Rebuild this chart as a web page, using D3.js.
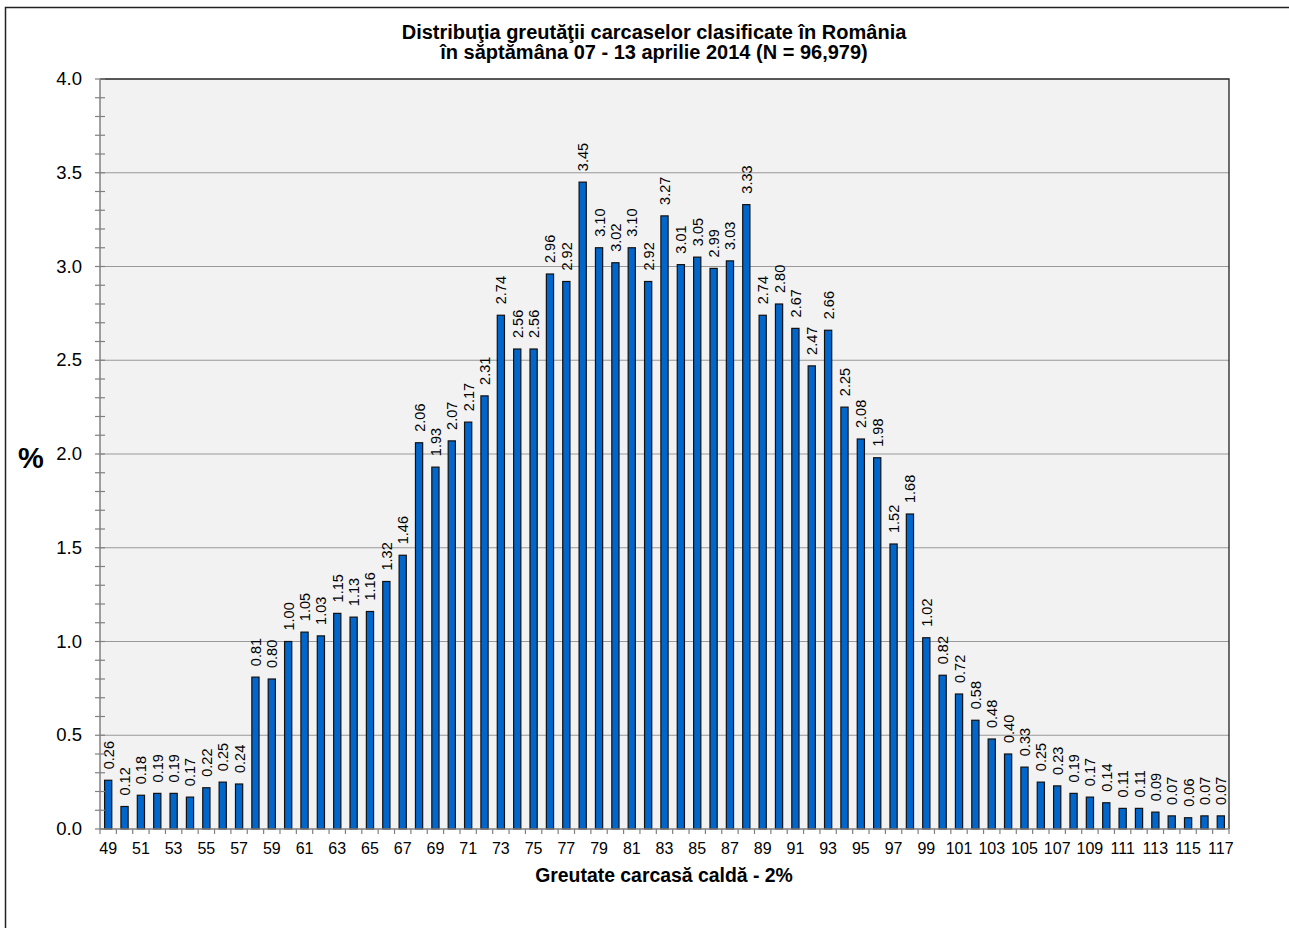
<!DOCTYPE html>
<html>
<head>
<meta charset="utf-8">
<script src="https://cdn.jsdelivr.net/npm/d3@7"></script>
<style>
  body { margin: 0; background: #fff; }
  svg { font-family: Arial, "Liberation Sans", sans-serif; }
</style>
</head>
<body>
<div id="chart"></div>
<script>
// Weight classes (kg) and share of carcasses (%)
const weights = d3.range(49, 118);
const shares = [
  0.26, 0.12, 0.18, 0.19, 0.19, 0.17, 0.22, 0.25, 0.24,
  0.81, 0.80, 1.00, 1.05, 1.03, 1.15, 1.13, 1.16, 1.32, 1.46,
  2.06, 1.93, 2.07, 2.17, 2.31, 2.74, 2.56, 2.56, 2.96, 2.92,
  3.45, 3.10, 3.02, 3.10, 2.92, 3.27, 3.01, 3.05, 2.99, 3.03,
  3.33, 2.74, 2.80, 2.67, 2.47, 2.66, 2.25, 2.08, 1.98, 1.52,
  1.68, 1.02, 0.82, 0.72, 0.58, 0.48, 0.40, 0.33, 0.25, 0.23,
  0.19, 0.17, 0.14, 0.11, 0.11, 0.09, 0.07, 0.06, 0.07, 0.07
];
const yTicks = [0, 0.5, 1, 1.5, 2, 2.5, 3, 3.5, 4];
const titleLines = [
  "Distribuţia greutăţii carcaselor clasificate în România",
  "în săptămâna 07 - 13 aprilie 2014 (N = 96,979)"
];

const width = 1289, height = 928;
const plot = { left: 100, top: 79, right: 1229, bottom: 829 };

const svg = d3.select("#chart").append("svg")
  .attr("width", width)
  .attr("height", height);

// outer chart border
svg.append("rect")
  .attr("x", 5.5).attr("y", 7.5)
  .attr("width", width).attr("height", height)
  .attr("fill", "none").attr("stroke", "#222").attr("stroke-width", 1.5);

const x = d3.scaleBand()
  .domain(weights)
  .range([plot.left, plot.right])
  .paddingInner(0.56).paddingOuter(0.28);

const y = d3.scaleLinear().domain([0, 4]).range([plot.bottom, plot.top]);

// plot background
svg.append("rect")
  .attr("x", plot.left).attr("y", plot.top)
  .attr("width", plot.right - plot.left).attr("height", plot.bottom - plot.top)
  .attr("fill", "#f2f2f2");

// gridlines
svg.selectAll(".grid")
  .data(yTicks.slice(1, -1))
  .enter().append("line")
  .attr("x1", plot.left).attr("x2", plot.right)
  .attr("y1", d => y(d)).attr("y2", d => y(d))
  .style("stroke", "#999").style("stroke-width", 1.2);

// plot frame top/right
svg.append("path")
  .attr("d", `M${plot.left},${plot.top}H${plot.right}V${plot.bottom}`)
  .attr("fill", "none").attr("stroke", "#222").attr("stroke-width", 1.3);

// bars
svg.selectAll(".bar")
  .data(shares)
  .enter().append("rect")
  .attr("x", (d, i) => x(weights[i]))
  .attr("y", d => y(d))
  .attr("width", x.bandwidth())
  .attr("height", d => y(0) - y(d))
  .attr("fill", "#0066cc")
  .attr("stroke", "#111").attr("stroke-width", 1.2);

// value labels
svg.selectAll(".val")
  .data(shares)
  .enter().append("text")
  .attr("transform", (d, i) =>
    `translate(${x(weights[i]) + x.bandwidth() / 2 + 5.5}, ${y(d) - 11}) rotate(-90)`)
  .attr("font-size", 14.5)
  .attr("fill", "#000")
  .text(d => d.toFixed(2));

// y axis
const yAxis = svg.append("g")
  .attr("transform", `translate(${plot.left},0)`);
yAxis.append("line")
  .attr("y1", plot.top).attr("y2", plot.bottom)
  .style("stroke", "#808080").style("stroke-width", 1.5);
yAxis.selectAll(".minor")
  .data(d3.range(0, 41))
  .enter().append("line")
  .attr("x1", -5).attr("x2", 5)
  .attr("y1", d => y(d / 10)).attr("y2", d => y(d / 10))
  .style("stroke", "#808080").style("stroke-width", 1.2);
yAxis.selectAll(".ylab")
  .data(yTicks)
  .enter().append("text")
  .attr("x", -18).attr("y", d => y(d) + 6)
  .attr("text-anchor", "end")
  .attr("font-size", 18.5)
  .text(d => d.toFixed(1));

// x axis
const xAxis = svg.append("g");
xAxis.append("line")
  .attr("x1", plot.left).attr("x2", plot.right)
  .attr("y1", plot.bottom).attr("y2", plot.bottom)
  .style("stroke", "#808080").style("stroke-width", 1.5);
const step = x.step();
xAxis.selectAll(".xtick")
  .data(d3.range(weights.length + 1))
  .enter().append("line")
  .attr("x1", i => plot.left + i * step).attr("x2", i => plot.left + i * step)
  .attr("y1", plot.bottom).attr("y2", plot.bottom + 5)
  .style("stroke", "#808080").style("stroke-width", 1.2);
xAxis.selectAll(".xlab")
  .data(weights.filter(w => (w - 49) % 2 === 0))
  .enter().append("text")
  .attr("x", d => x(d) + x.bandwidth() / 2)
  .attr("y", plot.bottom + 25)
  .attr("text-anchor", "middle")
  .attr("font-size", 16)
  .text(d => d);

// titles
svg.selectAll(".title")
  .data(titleLines)
  .enter().append("text")
  .attr("x", 654).attr("y", (d, i) => 38.5 + i * 20.5)
  .attr("text-anchor", "middle")
  .attr("font-size", 20).attr("font-weight", "bold")
  .text(d => d);

svg.append("text")
  .attr("x", 664).attr("y", 882)
  .attr("text-anchor", "middle")
  .attr("font-size", 19.4).attr("font-weight", "bold")
  .text("Greutate carcasă caldă - 2%");

svg.append("text")
  .attr("x", 31).attr("y", 468)
  .attr("text-anchor", "middle")
  .attr("font-size", 29).attr("font-weight", "bold")
  .text("%");
</script>
</body>
</html>
